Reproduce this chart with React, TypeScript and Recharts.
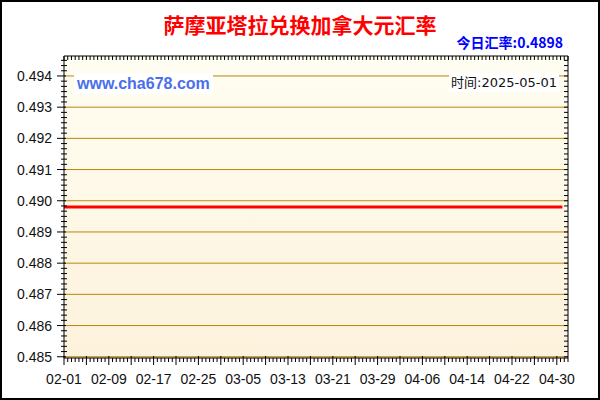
import React from "react"
import { LineChart, Line, XAxis, YAxis, CartesianGrid } from "recharts"

// daily dates shown on the chart (02-01 .. 05-01)
const dates = [
  "02-01", "02-02", "02-03", "02-04", "02-05", "02-06", "02-07", "02-08", "02-09", "02-10",
  "02-11", "02-12", "02-13", "02-14", "02-15", "02-16", "02-17", "02-18", "02-19", "02-20",
  "02-21", "02-22", "02-23", "02-24", "02-25", "02-26", "02-27", "02-28", "03-01", "03-02",
  "03-03", "03-04", "03-05", "03-06", "03-07", "03-08", "03-09", "03-10", "03-11", "03-12",
  "03-13", "03-14", "03-15", "03-16", "03-17", "03-18", "03-19", "03-20", "03-21", "03-22",
  "03-23", "03-24", "03-25", "03-26", "03-27", "03-28", "03-29", "03-30", "03-31", "04-01",
  "04-02", "04-03", "04-04", "04-05", "04-06", "04-07", "04-08", "04-09", "04-10", "04-11",
  "04-12", "04-13", "04-14", "04-15", "04-16", "04-17", "04-18", "04-19", "04-20", "04-21",
  "04-22", "04-23", "04-24", "04-25", "04-26", "04-27", "04-28", "04-29", "04-30", "05-01",
]

// WST -> CAD rate, flat over the period
const rates = [
  0.4898, 0.4898, 0.4898, 0.4898, 0.4898, 0.4898, 0.4898, 0.4898, 0.4898, 0.4898,
  0.4898, 0.4898, 0.4898, 0.4898, 0.4898, 0.4898, 0.4898, 0.4898, 0.4898, 0.4898,
  0.4898, 0.4898, 0.4898, 0.4898, 0.4898, 0.4898, 0.4898, 0.4898, 0.4898, 0.4898,
  0.4898, 0.4898, 0.4898, 0.4898, 0.4898, 0.4898, 0.4898, 0.4898, 0.4898, 0.4898,
  0.4898, 0.4898, 0.4898, 0.4898, 0.4898, 0.4898, 0.4898, 0.4898, 0.4898, 0.4898,
  0.4898, 0.4898, 0.4898, 0.4898, 0.4898, 0.4898, 0.4898, 0.4898, 0.4898, 0.4898,
  0.4898, 0.4898, 0.4898, 0.4898, 0.4898, 0.4898, 0.4898, 0.4898, 0.4898, 0.4898,
  0.4898, 0.4898, 0.4898, 0.4898, 0.4898, 0.4898, 0.4898, 0.4898, 0.4898, 0.4898,
  0.4898, 0.4898, 0.4898, 0.4898, 0.4898, 0.4898, 0.4898, 0.4898, 0.4898, 0.4898,
]

const xTickLabels = ["02-01", "02-09", "02-17", "02-25", "03-05", "03-13", "03-21", "03-29", "04-06", "04-14", "04-22", "04-30"]
const yTicks = [0.485, 0.486, 0.487, 0.488, 0.489, 0.49, 0.491, 0.492, 0.493, 0.494]

const title = "萨摩亚塔拉兑换加拿大元汇率"
const todayRate = "今日汇率:0.4898"
const siteText = "www.cha678.com"
const timeText = "时间:2025-05-01"

const rows = dates.map((d, i) => ({ idx: i, date: d, rate: rates[i] }))

// tick marks: major every 4 days / 0.001, 6 minor steps per major
const xAllTicks = Array.from({ length: 136 }, (_, k) => (k * 2) / 3)
const yAllTicks = Array.from({ length: 58 }, (_, k) => 0.485 + k / 6000)

const X_DOMAIN: [number, number] = [0, 90]
const Y_DOMAIN: [number, number] = [0.48496, 0.49464]

const FONT = "'Liberation Sans', Arial, sans-serif"
const black = { stroke: "#000" }
const blank = () => ""

const isStep = (v: number, step: number) => Math.abs(v / step - Math.round(v / step)) < 1e-6

function XTick(props: any) {
  const { x, y, payload } = props
  const v = payload.value as number
  const major = isStep(v, 4)
  const d = dates[Math.round(v)]
  const label = isStep(v, 8) && xTickLabels.includes(d) ? d : ""
  return (
    <g>
      <line x1={x} x2={x} y1={major ? y - 2 : y} y2={major ? y + 7 : y + 4} stroke="#000" />
      {label && (
        <text x={x} y={y + 16} dy="0.71em" textAnchor="middle" fontSize={14} fontFamily={FONT} fill="#111">
          {label}
        </text>
      )}
    </g>
  )
}

function YTick(props: any) {
  const { x, y, payload } = props
  const v = payload.value as number
  const major = yTicks.some((t) => Math.abs(t - v) < 1e-7)
  return (
    <g>
      <line x1={major ? x - 7 : x - 3} x2={major ? x + 2 : x + 3} y1={y} y2={y} stroke="#000" />
      {major && (
        <text x={x - 12} y={y} dy="0.355em" textAnchor="end" fontSize={14} fontFamily={FONT} fill="#111">
          {v.toFixed(3)}
        </text>
      )}
    </g>
  )
}

export default function App() {
  return (
    <div style={{ position: "absolute", left: 0, top: 0, width: 600, height: 400, background: "#fff" }}>
      <LineChart width={600} height={400} data={rows} margin={{ top: 56, right: 32, bottom: 12, left: 8 }}>
        <defs>
          <linearGradient id="plotBg" x1="0" y1="0" x2="0" y2="1">
            <stop offset="0%" stopColor="#FFFEF2" />
            <stop offset="100%" stopColor="#FDF2DC" />
          </linearGradient>
        </defs>
        <CartesianGrid vertical={false} stroke="#B8860B" fill="url(#plotBg)" xAxisId="bottom" yAxisId="left"
          horizontalValues={yTicks} />

        <XAxis xAxisId="bottom" dataKey="idx" type="number" domain={X_DOMAIN} allowDataOverflow
          ticks={xAllTicks} interval={0} height={30} axisLine={black} tickLine={false} tickSize={0} tickMargin={0}
          tick={<XTick />} />
        <XAxis xAxisId="top" orientation="top" mirror dataKey="idx" type="number" domain={X_DOMAIN} allowDataOverflow
          ticks={xAllTicks} interval={0} height={1} axisLine={black} tickLine={black} tickSize={4} tickFormatter={blank} />

        <YAxis yAxisId="left" type="number" domain={Y_DOMAIN} allowDataOverflow
          ticks={yAllTicks} interval={0} width={56} axisLine={black} tickLine={false} tickSize={0} tickMargin={0}
          tick={<YTick />} />
        <YAxis yAxisId="right" orientation="right" mirror type="number" domain={Y_DOMAIN} allowDataOverflow
          ticks={yAllTicks} interval={0} width={1} axisLine={black} tickLine={black} tickSize={4} tickFormatter={blank} />

        <Line xAxisId="bottom" yAxisId="left" dataKey="rate" stroke="#FF0000" strokeWidth={3} dot={false}
          isAnimationActive={false} />
      </LineChart>

      <div style={{ position: "absolute", left: 0, top: 11, width: 600, textAlign: "center", color: "#FF0000",
        fontFamily: "'Noto Sans CJK SC', sans-serif", fontWeight: 700, fontSize: 21, lineHeight: "26px" }}>
        {title}
      </div>
      <div style={{ position: "absolute", right: 37, top: 33, color: "#0000FF",
        fontFamily: "'Noto Sans CJK SC', sans-serif", fontWeight: 700, fontSize: 14, lineHeight: "18px" }}>
        {todayRate}
      </div>
      <div style={{ position: "absolute", left: 74, top: 73, padding: "0 3px", background: "#fff", color: "#4A6FEA",
        fontFamily: FONT, fontWeight: 700, fontSize: 16, lineHeight: "21px" }}>
        {siteText}
      </div>
      <div style={{ position: "absolute", right: 41, top: 73, padding: "0 2px", background: "#fff", color: "#111",
        fontFamily: "'DejaVu Sans', 'Noto Sans CJK SC', sans-serif", fontSize: 13, lineHeight: "19px" }}>
        {timeText}
      </div>
      <div style={{ position: "absolute", left: 0, top: 0, width: 600, height: 400, boxSizing: "border-box",
        border: "2px solid #000", pointerEvents: "none" }} />
    </div>
  )
}
